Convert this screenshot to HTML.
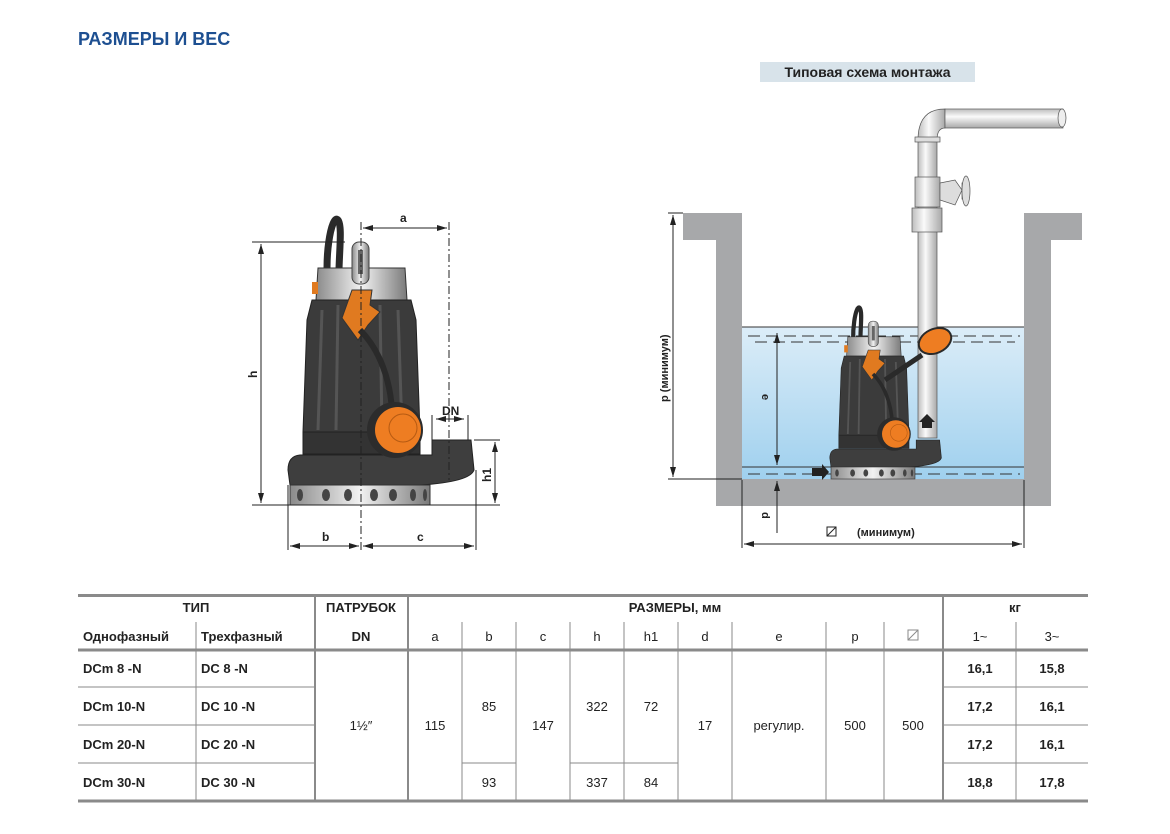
<!DOCTYPE html>
<html><head><meta charset="utf-8">
<style>
body{margin:0;width:1170px;height:834px;background:#fff;position:relative;font-family:"Liberation Sans","DejaVu Sans",sans-serif;overflow:hidden}
.t{position:absolute;white-space:nowrap}
svg{position:absolute;left:0;top:0}
</style></head><body>
<div class="t" style="left:78px;top:29px;font-size:18px;font-weight:bold;color:#1d4f91">РАЗМЕРЫ И ВЕС</div>
<div class="t" style="left:760px;top:62px;width:215px;height:20px;background:#d8e3ea;font-size:14px;font-weight:bold;color:#222;text-align:center;line-height:20px">Типовая схема монтажа</div>

<svg width="1170" height="834" viewBox="0 0 1170 834">
<defs>
<linearGradient id="sil" x1="0" x2="1"><stop offset="0" stop-color="#8a8a8a"/><stop offset=".5" stop-color="#f2f2f2"/><stop offset="1" stop-color="#7a7a7a"/></linearGradient>
<linearGradient id="wat" x1="0" y1="0" x2="0" y2="1"><stop offset="0" stop-color="#dcedf8"/><stop offset="1" stop-color="#9fd0ee"/></linearGradient>
<linearGradient id="pip" x1="0" x2="1"><stop offset="0" stop-color="#bdbdbd"/><stop offset=".4" stop-color="#fafafa"/><stop offset="1" stop-color="#a8a8a8"/></linearGradient>
<linearGradient id="piph" x1="0" y1="0" x2="0" y2="1"><stop offset="0" stop-color="#bdbdbd"/><stop offset=".4" stop-color="#fafafa"/><stop offset="1" stop-color="#a8a8a8"/></linearGradient>
<marker id="ar" viewBox="0 0 10 6" refX="10" refY="3" markerWidth="10" markerHeight="6" orient="auto-start-reverse"><path d="M0,0L10,3L0,6z" fill="#222"/></marker>
<g id="pump">
 <path d="M330,300 C322,260 332,212 338,220 C344,228 336,270 340,300" fill="none" stroke="#2a2a2a" stroke-width="7"/>
 <path d="M318,268 L405,268 L407,300 L316,300z" fill="url(#sil)" stroke="#333"/>
 <rect x="312" y="282" width="6" height="12" fill="#e07a20"/>
 <path d="M312,300 L411,300 L416,320 L420,432 L303,432 L307,320z" fill="#3b3b3b" stroke="#222"/>
 <path d="M322,310 L318,430 M338,305 L336,430 M380,305 L382,430 M398,310 L402,430" stroke="#555" stroke-width="3"/>
 <rect x="303" y="432" width="117" height="22" fill="#333" stroke="#222"/>
 <path d="M288,470 Q288,456 300,455 L432,455 L432,440 L471,440 L474,470 Q470,482 420,485 L290,485z" fill="#3e3e3e" stroke="#222"/>
 <rect x="290" y="485" width="140" height="20" fill="url(#sil)" stroke="#333"/>
 <g fill="#444"><ellipse cx="300" cy="495" rx="3" ry="6"/><ellipse cx="326" cy="495" rx="4" ry="6"/><ellipse cx="348" cy="495" rx="4" ry="6"/><ellipse cx="374" cy="495" rx="4" ry="6"/><ellipse cx="393" cy="495" rx="4" ry="6"/><ellipse cx="413" cy="495" rx="3" ry="6"/><ellipse cx="425" cy="495" rx="2" ry="6"/></g>
 <rect x="352" y="242" width="17" height="42" rx="7" fill="url(#sil)" stroke="#444"/>
 <rect x="358" y="250" width="5" height="24" fill="#666"/>
 <path d="M352,290 L372,290 L370,305 L380,312 L368,325 L358,340 L342,318z" fill="#e07a20" stroke="#333"/>
 <path d="M360,330 C380,350 390,380 392,410" fill="none" stroke="#2a2a2a" stroke-width="6"/>
 <circle cx="395" cy="430" r="28" fill="#2c2c2c"/>
 <circle cx="398" cy="430" r="23" fill="#ee7d22"/>
 <circle cx="403" cy="428" r="14" fill="none" stroke="#b65a12" stroke-width="1"/>
</g>
</defs>

<use href="#pump"/>
<g stroke="#222" stroke-width="1" fill="none">
 <line x1="252" y1="242" x2="345" y2="242"/>
 <line x1="252" y1="505" x2="500" y2="505"/>
 <line x1="261" y1="244" x2="261" y2="503" marker-start="url(#ar)" marker-end="url(#ar)"/>
 <line x1="361" y1="222" x2="361" y2="550" stroke-dasharray="8,3,2,3"/>
 <line x1="449" y1="222" x2="449" y2="480" stroke-dasharray="8,3,2,3"/>
 <line x1="363" y1="228" x2="447" y2="228" marker-start="url(#ar)" marker-end="url(#ar)"/>
 <line x1="432" y1="415" x2="432" y2="440"/><line x1="468" y1="415" x2="468" y2="440"/>
 <line x1="436" y1="419" x2="464" y2="419" marker-start="url(#ar)" marker-end="url(#ar)"/>
 <line x1="474" y1="440" x2="500" y2="440"/>
 <line x1="495" y1="442" x2="495" y2="503" marker-start="url(#ar)" marker-end="url(#ar)"/>
 <line x1="288" y1="485" x2="288" y2="550"/><line x1="476" y1="470" x2="476" y2="550"/>
 <line x1="290" y1="546" x2="359" y2="546" marker-start="url(#ar)" marker-end="url(#ar)"/>
 <line x1="363" y1="546" x2="474" y2="546" marker-start="url(#ar)" marker-end="url(#ar)"/>
</g>
<g font-size="12" font-weight="bold" fill="#222" font-family="Liberation Sans, sans-serif">
 <text x="400" y="222">a</text>
 <text x="442" y="415">DN</text>
 <text x="322" y="541">b</text>
 <text x="417" y="541">c</text>
 <text transform="translate(257,378) rotate(-90)">h</text>
 <text transform="translate(491,482) rotate(-90)">h1</text>
</g>

<rect x="742" y="327" width="282" height="152" fill="url(#wat)"/>
<path d="M683,213 L742,213 L742,479 L1024,479 L1024,213 L1082,213 L1082,240 L1051,240 L1051,506 L716,506 L716,240 L683,240z" fill="#a7a8aa"/>
<g stroke="#333" stroke-width="1">
 <line x1="742" y1="327" x2="1024" y2="327"/><line x1="742" y1="467" x2="1024" y2="467"/>
 <g stroke-dasharray="12,6"><line x1="748" y1="336" x2="1020" y2="336"/><line x1="755" y1="342" x2="1015" y2="342"/><line x1="748" y1="474" x2="1020" y2="474"/></g>
</g>
<rect x="918" y="140" width="19" height="298" fill="url(#pip)" stroke="#555" stroke-width=".7"/>
<path d="M918,140 Q918,109 945,109 L945,128 Q937,128 937,140z" fill="url(#pip)" stroke="#555" stroke-width=".7"/>
<rect x="945" y="109" width="118" height="19" fill="url(#piph)" stroke="#555" stroke-width=".7"/>
<ellipse cx="1062" cy="118" rx="4" ry="9" fill="#eee" stroke="#555" stroke-width=".7"/>
<rect x="915" y="137" width="25" height="5" fill="#ddd" stroke="#555" stroke-width=".7"/>
<rect x="915" y="177" width="25" height="30" fill="url(#pip)" stroke="#555" stroke-width=".7"/>
<path d="M940,183 L955,180 L962,190 L955,205 L940,200z" fill="#ddd" stroke="#555" stroke-width=".7"/>
<rect x="962" y="183" width="6" height="16" fill="#ccc" stroke="#555" stroke-width=".7"/>
<ellipse cx="966" cy="191" rx="4" ry="15" fill="#ddd" stroke="#555" stroke-width=".7"/>
<rect x="912" y="208" width="30" height="24" fill="url(#pip)" stroke="#555" stroke-width=".7"/>
<path d="M922,428 L922,422 L919,422 L927,414 L935,422 L932,422 L932,428z" fill="#222"/>
<g transform="translate(657,176) scale(0.6)"><use href="#pump"/></g>
<path d="M885,380 L922,355" stroke="#2a2a2a" stroke-width="5"/>
<ellipse cx="935" cy="341" rx="17" ry="12" transform="rotate(-25 935 341)" fill="#ee7d22" stroke="#2a2a2a" stroke-width="2"/>
<path d="M812,468 L822,468 L822,464 L829,472 L822,480 L822,476 L812,476z" fill="#222"/>
<g stroke="#222" stroke-width="1" fill="none">
 <line x1="668" y1="213" x2="683" y2="213"/>
 <line x1="668" y1="479" x2="742" y2="479"/>
 <line x1="673" y1="215" x2="673" y2="477" marker-start="url(#ar)" marker-end="url(#ar)"/>
 <line x1="777" y1="333" x2="777" y2="465" marker-start="url(#ar)" marker-end="url(#ar)"/>
 <line x1="777" y1="481" x2="777" y2="533" marker-start="url(#ar)"/>
 <line x1="742" y1="480" x2="742" y2="548"/><line x1="1024" y1="480" x2="1024" y2="548"/>
 <line x1="744" y1="544" x2="1022" y2="544" marker-start="url(#ar)" marker-end="url(#ar)"/>
 <rect x="827" y="527" width="9" height="9"/><line x1="827" y1="536" x2="836" y2="527"/>
</g>
<g font-size="11" font-weight="bold" fill="#222" font-family="Liberation Sans, sans-serif">
 <text transform="translate(668,402) rotate(-90)">p (минимум)</text>
 <text transform="translate(762,394) rotate(90)">e</text>
 <text transform="translate(762,512) rotate(90)">d</text>
 <text x="857" y="536">(минимум)</text>
</g>

<g stroke="#8a8a8a" fill="none">
 <line x1="78" y1="595.5" x2="1088" y2="595.5" stroke-width="3"/>
 <line x1="78" y1="650" x2="1088" y2="650" stroke-width="3"/>
 <line x1="78" y1="801" x2="1088" y2="801" stroke-width="3"/>
 <g stroke-width="2"><line x1="315" y1="595" x2="315" y2="801"/><line x1="408" y1="595" x2="408" y2="801"/><line x1="943" y1="595" x2="943" y2="801"/></g>
 <g stroke-width="1">
  <line x1="196" y1="622" x2="196" y2="801"/>
  <line x1="462" y1="622" x2="462" y2="801"/><line x1="516" y1="622" x2="516" y2="801"/><line x1="570" y1="622" x2="570" y2="801"/><line x1="624" y1="622" x2="624" y2="801"/><line x1="678" y1="622" x2="678" y2="801"/><line x1="732" y1="622" x2="732" y2="801"/><line x1="826" y1="622" x2="826" y2="801"/><line x1="884" y1="622" x2="884" y2="801"/><line x1="1016" y1="622" x2="1016" y2="801"/>
  <line x1="78" y1="687" x2="315" y2="687"/><line x1="78" y1="725" x2="315" y2="725"/><line x1="78" y1="763" x2="315" y2="763"/>
  <line x1="943" y1="687" x2="1088" y2="687"/><line x1="943" y1="725" x2="1088" y2="725"/><line x1="943" y1="763" x2="1088" y2="763"/>
  <line x1="462" y1="763" x2="516" y2="763"/><line x1="570" y1="763" x2="678" y2="763"/>
  <rect x="908" y="630" width="10" height="10"/><line x1="908" y1="640" x2="918" y2="630"/>
 </g>
</g>
<g font-size="13" fill="#222" font-family="Liberation Sans, sans-serif" text-anchor="middle">
 <g font-weight="bold">
  <text x="196" y="612">ТИП</text><text x="361" y="612">ПАТРУБОК</text><text x="675" y="612">РАЗМЕРЫ, мм</text><text x="1015" y="612">кг</text>
  <text x="361" y="641">DN</text>
 </g>
 <g font-weight="bold" text-anchor="start" xml:space="preserve">
  <text x="83" y="641">Однофазный</text><text x="201" y="641">Трехфазный</text>
  <text x="83" y="673">DCm 8   -N</text><text x="201" y="673">DC 8   -N</text>
  <text x="83" y="711">DCm 10-N</text><text x="201" y="711">DC 10 -N</text>
  <text x="83" y="749">DCm 20-N</text><text x="201" y="749">DC 20 -N</text>
  <text x="83" y="787">DCm 30-N</text><text x="201" y="787">DC 30 -N</text>
 </g>
 <text x="435" y="641">a</text><text x="489" y="641">b</text><text x="543" y="641">c</text><text x="597" y="641">h</text><text x="651" y="641">h1</text><text x="705" y="641">d</text><text x="779" y="641">e</text><text x="855" y="641">p</text>
 <text x="980" y="641">1~</text><text x="1052" y="641">3~</text>
 <text x="361" y="730">1½″</text><text x="435" y="730">115</text><text x="489" y="711">85</text><text x="489" y="787">93</text><text x="543" y="730">147</text><text x="597" y="711">322</text><text x="597" y="787">337</text><text x="651" y="711">72</text><text x="651" y="787">84</text><text x="705" y="730">17</text><text x="779" y="730">регулир.</text><text x="855" y="730">500</text><text x="913" y="730">500</text>
 <g font-weight="bold"><text x="980" y="673">16,1</text><text x="1052" y="673">15,8</text><text x="980" y="711">17,2</text><text x="1052" y="711">16,1</text><text x="980" y="749">17,2</text><text x="1052" y="749">16,1</text><text x="980" y="787">18,8</text><text x="1052" y="787">17,8</text></g>
</g>
</svg>
</body></html>
